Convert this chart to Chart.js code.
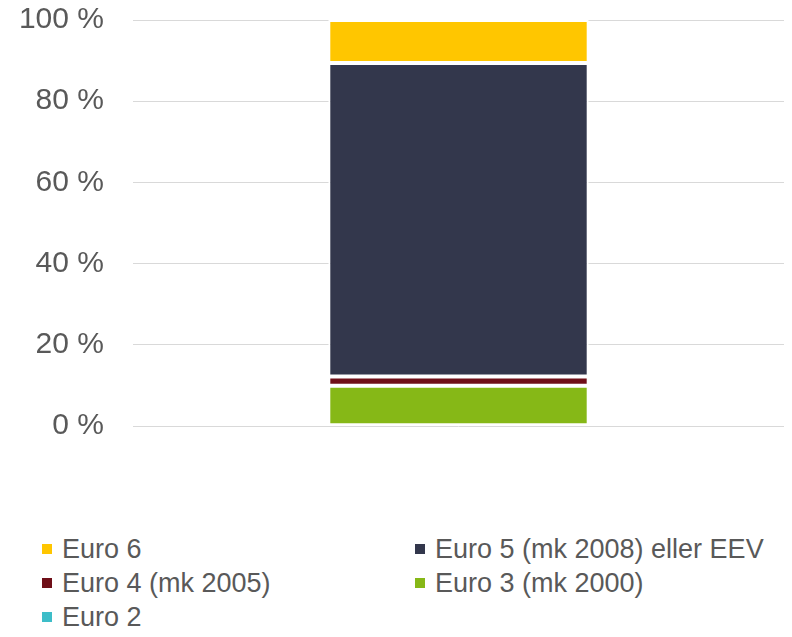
<!DOCTYPE html>
<html>
<head>
<meta charset="utf-8">
<script src="https://cdn.jsdelivr.net/npm/chart.js@4"></script>
<style>
  body { margin: 0; background: #fff; font-family: "Liberation Sans", Arial, sans-serif; }
  #wrap { position: absolute; left: 0; top: 0; width: 792px; height: 460px; }
  #legend {
    position: absolute; left: 42px; top: 532px;
    display: grid; grid-template-columns: 373px auto;
    font-size: 27px; line-height: 34px; color: #595959;
  }
  #legend div { display: flex; align-items: center; white-space: nowrap; }
  #legend span.box { display: inline-block; width: 10px; height: 10px; margin-right: 10px; }
</style>
</head>
<body>
<div id="wrap"><canvas id="c"></canvas></div>
<div id="legend"></div>
<script>
// data, stacked from the bottom up
const categories = [''];
const seriesNames = ['Euro 2', 'Euro 3 (mk 2000)', 'Euro 4 (mk 2005)', 'Euro 5 (mk 2008) eller EEV', 'Euro 6'];
const euro2 = [0.2];
const euro3 = [9.7];
const euro4 = [2.3];
const euro5 = [77.2];
const euro6 = [10.6];
const colors = ['#3dbdc8', '#86b817', '#6f0f18', '#33374c', '#ffc600'];
const yTicks = [0, 20, 40, 60, 80, 100];

const values = [euro2, euro3, euro4, euro5, euro6];

const chart = new Chart(document.getElementById('c'), {
  type: 'bar',
  data: {
    labels: categories,
    datasets: seriesNames.map((name, i) => ({
      label: name,
      data: values[i],
      backgroundColor: colors[i],
      borderColor: '#ffffff',
      borderWidth: 2,
      borderSkipped: false,
      barPercentage: 0.40,
      categoryPercentage: 1.0
    }))
  },
  options: {
    responsive: true,
    maintainAspectRatio: false,
    animation: false,
    layout: { padding: { top: 20, right: 8, bottom: 34, left: 0 } },
    plugins: { legend: { display: false }, tooltip: { enabled: false } },
    scales: {
      x: { stacked: true, display: false },
      y: {
        stacked: true,
        min: 0,
        max: 100,
        afterBuildTicks: (s) => { s.ticks = yTicks.map(v => ({ value: v })); },
        afterFit: (s) => {
          s.width = 133;
          s.paddingTop = 0;
          s.paddingBottom = 0;
        },
        border: { display: false },
        grid: { color: '#d9d9d9', lineWidth: 1, drawTicks: false },
        ticks: {
          padding: 29,
          color: '#595959',
          font: { family: '"Liberation Sans", Arial, sans-serif', size: 30 },
          callback: (v) => v + ' %'
        }
      }
    }
  }
});

// legend, top series first, two columns
const legend = document.getElementById('legend');
chart.data.datasets.slice().reverse().forEach(ds => {
  const item = document.createElement('div');
  const box = document.createElement('span');
  box.className = 'box';
  box.style.background = ds.backgroundColor;
  item.appendChild(box);
  item.appendChild(document.createTextNode(ds.label));
  legend.appendChild(item);
});
</script>
</body>
</html>
